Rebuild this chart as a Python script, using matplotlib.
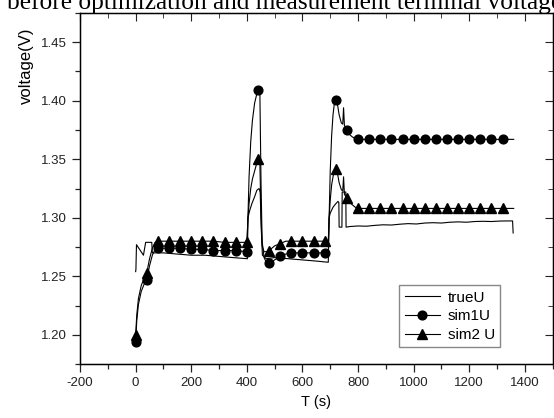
import matplotlib
matplotlib.use("Agg")
import matplotlib.pyplot as plt
from matplotlib.ticker import MultipleLocator

plt.rcParams['font.family'] = ['Liberation Sans', 'DejaVu Sans']
plt.rcParams['axes.unicode_minus'] = False

# measured terminal voltage
true_t = [0, 1, 3, 28, 36, 58, 60, 100, 150, 200, 250, 300, 350, 402, 404, 410,
          418, 428, 436, 444, 448, 452, 456, 470, 500, 550, 600, 650, 693, 696,
          700, 710, 720, 728, 731, 732, 742, 743, 756, 757, 770, 800, 830, 860,
          890, 920, 950, 980, 1010, 1040, 1070, 1100, 1130, 1160, 1190, 1220,
          1250, 1280, 1310, 1340, 1356, 1358]
true_u = [1.254, 1.256, 1.277, 1.268, 1.279, 1.279, 1.270, 1.270, 1.269, 1.268,
          1.268, 1.267, 1.266, 1.265, 1.300, 1.306, 1.312, 1.318, 1.3235, 1.325,
          1.322, 1.290, 1.268, 1.265, 1.266, 1.265, 1.264, 1.263, 1.262, 1.300,
          1.304, 1.309, 1.312, 1.314, 1.313, 1.292, 1.292, 1.322, 1.322, 1.292,
          1.2925, 1.2930, 1.2928, 1.2935, 1.2940, 1.2938, 1.2945, 1.2950, 1.2947,
          1.2955, 1.2958, 1.2955, 1.2962, 1.2965, 1.2962, 1.2968, 1.2970, 1.2968,
          1.2972, 1.2973, 1.2973, 1.287]

# simulated voltages (same time base)
sim_t = [0, 4, 10, 20, 30, 40, 50, 60, 70, 80, 120, 160, 200, 240, 280, 320, 360,
         400, 404, 408, 414, 420, 428, 435, 440, 447, 451, 455, 462, 470, 480,
         500, 520, 540, 560, 600, 640, 680, 693, 696, 700, 705, 710, 715, 720,
         726, 732, 740, 745, 748, 751, 760, 770, 780, 790, 800, 840, 880, 920,
         960, 1000, 1040, 1080, 1120, 1160, 1200, 1240, 1280, 1320, 1360]
sim1_u = [1.194, 1.212, 1.226, 1.237, 1.243, 1.247, 1.259, 1.268, 1.273, 1.274,
          1.274, 1.274, 1.273, 1.273, 1.272, 1.272, 1.272, 1.271,
          1.300, 1.335, 1.365, 1.383, 1.398, 1.405, 1.409,
          1.405, 1.330, 1.280, 1.266, 1.262, 1.261,
          1.264, 1.267, 1.269, 1.270, 1.270, 1.270, 1.270,
          1.270, 1.300, 1.340, 1.370, 1.388, 1.398, 1.401,
          1.397, 1.388, 1.381, 1.380, 1.394, 1.379, 1.375,
          1.371, 1.369, 1.368, 1.367,
          1.367, 1.367, 1.367, 1.367, 1.367, 1.367, 1.367, 1.367, 1.367,
          1.367, 1.367, 1.367, 1.367, 1.367]
sim2_u = [1.200, 1.217, 1.231, 1.242, 1.248, 1.253, 1.265, 1.274, 1.279, 1.280,
          1.280, 1.280, 1.280, 1.280, 1.280, 1.279, 1.279, 1.279,
          1.300, 1.312, 1.325, 1.333, 1.340, 1.346, 1.350,
          1.346, 1.300, 1.276, 1.271, 1.271, 1.272,
          1.276, 1.278, 1.280, 1.280, 1.280, 1.280, 1.280,
          1.280, 1.300, 1.315, 1.328, 1.335, 1.340, 1.342,
          1.338, 1.330, 1.324, 1.323, 1.335, 1.320, 1.317,
          1.313, 1.311, 1.309, 1.308,
          1.308, 1.308, 1.308, 1.308, 1.308, 1.308, 1.308, 1.308, 1.308,
          1.308, 1.308, 1.308, 1.308, 1.308]

# a marker every 40 s
marks = [i for i, t in enumerate(sim_t) if t % 40 == 0 and t <= 1320]

fig = plt.figure(figsize=(5.54, 4.18), dpi=100)
ax = fig.add_axes([0.1445, 0.129, 0.853, 0.84])

ax.plot(true_t, true_u, color='black', lw=0.8, label='trueU')
ax.plot(sim_t, sim1_u, color='black', lw=0.8, marker='o', ms=6.3,
        markevery=marks, label='sim1U')
ax.plot(sim_t, sim2_u, color='black', lw=0.8, marker='^', ms=6.8,
        markevery=marks, label='sim2 U')

ax.set_xlim(-200, 1500)
ax.set_ylim(1.175, 1.475)
ax.xaxis.set_major_locator(MultipleLocator(200))
ax.xaxis.set_minor_locator(MultipleLocator(100))
ax.yaxis.set_major_locator(MultipleLocator(0.05))
ax.yaxis.set_minor_locator(MultipleLocator(0.025))
ax.yaxis.set_major_formatter(plt.FormatStrFormatter('%.2f'))
ax.tick_params(which='major', direction='out', length=6, width=0.9,
               labelsize=9.5, colors='#222222')
ax.tick_params(which='minor', direction='out', length=3.5, width=0.9,
               colors='#222222')
for s in ax.spines.values():
    s.set_linewidth(1.0)
    s.set_color('#333333')

# mirrored inward ticks on top and right
axt = ax.twiny()
axt.set_xlim(ax.get_xlim())
axt.xaxis.set_major_locator(MultipleLocator(200))
axt.xaxis.set_minor_locator(MultipleLocator(100))
axt.tick_params(which='both', direction='in', labeltop=False, colors='#222222')
axt.tick_params(which='major', length=6)
axt.tick_params(which='minor', length=3.5)
axr = ax.twinx()
axr.set_ylim(ax.get_ylim())
axr.yaxis.set_major_locator(MultipleLocator(0.05))
axr.yaxis.set_minor_locator(MultipleLocator(0.025))
axr.tick_params(which='both', direction='in', labelright=False, colors='#222222')
axr.tick_params(which='major', length=6)
axr.tick_params(which='minor', length=3.5)

ax.set_xlabel('T (s)', fontsize=10.5)
ax.set_ylabel('voltage(V)', fontsize=12)
ax.yaxis.set_label_coords(-0.097, 0.85)

ax.legend(loc='lower right', bbox_to_anchor=(0.889, 0.048), fontsize=11,
          handlelength=2.3, labelspacing=0.3, fancybox=False,
          edgecolor='#888888', framealpha=1, borderpad=0.35,
          handletextpad=0.5, borderaxespad=0)

fig.text(7 / 554, 1 - 9 / 418, 'before optimization and measurement terminal voltage',
         family='Liberation Serif', fontsize=18.3, ha='left', va='baseline')

fig.savefig('out.png', dpi=100)
